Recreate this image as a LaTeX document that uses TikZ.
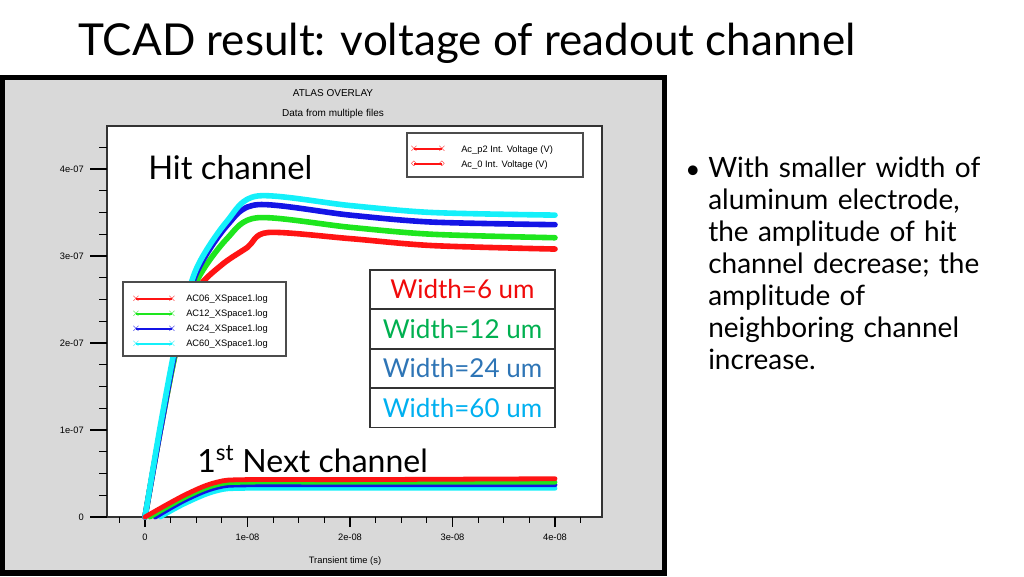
\documentclass[tikz,border=0pt]{standalone}
\usepackage{fontspec}
\setmainfont{Lato}
\newfontfamily\plotfont{Liberation Sans}
\definecolor{cR}{RGB}{255,20,20}
\definecolor{cG}{RGB}{30,230,30}
\definecolor{cB}{RGB}{20,20,230}
\definecolor{cC}{RGB}{20,240,250}
\definecolor{tR}{RGB}{240,10,10}
\definecolor{tG}{RGB}{0,176,80}
\definecolor{tB}{RGB}{46,117,182}
\definecolor{tC}{RGB}{0,176,240}
\begin{document}
\begin{tikzpicture}[x=0.75pt,y=-0.75pt,
  plottxt/.style={font=\plotfont\fontsize{7}{8}\selectfont, inner sep=0pt},
  legbox/.style={draw=black!70, fill=white, line width=0.8pt},
  wcell/.style={draw=black!80, line width=0.8pt, minimum width=185*0.75pt, minimum height=38.5*0.75pt, inner sep=0pt, font=\fontsize{19.5}{21}\selectfont},
  curve/.style={line width=4.2pt, line join=round, line cap=round},
  ncurve/.style={line width=3.6pt, line join=round, line cap=round},
  legline/.style={line width=0.8pt}]
\useasboundingbox (0,0) rectangle (1024,576);
\fill[white] (0,0) rectangle (1024,576);
% title
\node[anchor=west, inner sep=0pt, font=\fontsize{33}{37}\selectfont] (title) at (78,43) {TCAD result: voltage of readout channel};
% frame
\fill[black] (0,75) rectangle (667,576);
\fill[black!15] (5,80) rectangle (662,570);
\node[plottxt, font=\plotfont\fontsize{7.5}{8}\selectfont] (t1) at (333,93) {ATLAS OVERLAY};
\node[plottxt, font=\plotfont\fontsize{7.5}{8}\selectfont] (t2) at (333,114) {Data from multiple files};
\node[plottxt] (xl) at (345,561) {Transient time (s)};
\fill[white] (107,126) rectangle (602,517);
\draw[black!80, line width=0.8pt] (107,126) rectangle (602,517);
% y ticks
\foreach \i in {0,...,17} {\draw[black, line width=0.8pt] (99,{517-\i*21.75}) -- (107,{517-\i*21.75});}
\foreach \i/\lab in {0/0,1/1e-07,2/2e-07,3/3e-07,4/4e-07} {
  \draw[black, line width=1.2pt] (90,{517-\i*87}) -- (107,{517-\i*87});
  \node[plottxt, anchor=east] (yl\i) at (84,{517-\i*87}) {\lab};}
% x ticks
\foreach \i in {-1,...,17} {\draw[black, line width=0.8pt] ({145+\i*25.625},517) -- ({145+\i*25.625},523);}
\foreach \i/\lab in {0/0,1/1e-08,2/2e-08,3/3e-08,4/4e-08} {
  \draw[black, line width=1.2pt] ({145+\i*102.5},517) -- ({145+\i*102.5},527);
  \node[plottxt] (xt\i) at ({145+\i*102.5},537) {\lab};}
% curves
\begin{scope}[shift={(145,517)}, x=76.875pt, y=65.25pt]
 \draw[curve, cR] plot[smooth, tension=0.5] coordinates {(0,0) (0.15,1.0) (0.32,2.0) (0.5,2.6) (0.75,2.9) (1.0,3.1) (1.2,3.27) (2,3.2) (2.8,3.12) (4,3.08)};
 \draw[curve, cG] plot[smooth, tension=0.5] coordinates {(0,0) (0.15,1.0) (0.32,2.0) (0.5,2.7) (0.8,3.2) (1.1,3.44) (2,3.33) (2.8,3.25) (4,3.21)};
 \draw[curve, cB] plot[smooth, tension=0.5] coordinates {(0,0) (0.15,1.0) (0.32,2.05) (0.5,2.8) (0.8,3.35) (1.1,3.59) (2,3.47) (2.8,3.39) (4,3.36)};
 \draw[curve, cC] plot[smooth, tension=0.5] coordinates {(0,0) (0.15,1.05) (0.32,2.1) (0.5,2.85) (0.8,3.4) (1.1,3.69) (2,3.58) (2.8,3.5) (4,3.47)};
 \draw[ncurve, cC] plot[smooth, tension=0.6] coordinates {(0.15,0) (0.4,0.16) (0.7,0.3) (1.0,0.33) (2,0.33) (4,0.33)};
 \draw[ncurve, cB] plot[smooth, tension=0.6] coordinates {(0.1,0) (0.4,0.2) (0.7,0.34) (1.0,0.37) (2,0.37) (4,0.37)};
 \draw[ncurve, cG] plot[smooth, tension=0.6] coordinates {(0.05,0) (0.4,0.23) (0.7,0.37) (1.0,0.4) (2,0.4) (4,0.4)};
 \draw[ncurve, cR] plot[smooth, tension=0.6] coordinates {(0,0) (0.4,0.26) (0.7,0.4) (1.0,0.43) (2,0.43) (4,0.44)};
\end{scope}
% top right legend
\draw[legbox] (407,133) rectangle (583,177);
\draw[legline, cR] (414,149) -- (442,149);
\node[cR, inner sep=0pt, font=\fontsize{8}{8}\selectfont] (m1) at (414,149) {$\times$};
\node[cR, inner sep=0pt, font=\fontsize{8}{8}\selectfont] (m2) at (442,149) {$\times$};
\draw[legline, cR] (414,164) -- (442,164);
\node[cR, inner sep=0pt, font=\fontsize{8}{8}\selectfont] (m3) at (414,164) {$\diamond$};
\node[cR, inner sep=0pt, font=\fontsize{8}{8}\selectfont] (m4) at (442,164) {$\diamond$};
\node[plottxt, anchor=west] (lg1) at (461,150) {Ac\_p2 Int. Voltage (V)};
\node[plottxt, anchor=west] (lg2) at (461,165) {Ac\_0 Int. Voltage (V)};
% left legend
\draw[legbox] (123,282) rectangle (286,356);
\foreach \y/\c/\lab [count=\k] in {299/cR/AC06\_XSpace1.log, 314/cG/AC12\_XSpace1.log, 329/cB/AC24\_XSpace1.log, 344/cC/AC60\_XSpace1.log} {
  \draw[legline, \c] (136,\y) -- (172,\y);
  \node[\c, inner sep=0pt, font=\fontsize{8}{8}\selectfont] (lm\k a) at (136,\y) {$\times$};
  \node[\c, inner sep=0pt, font=\fontsize{8}{8}\selectfont] (lm\k b) at (172,\y) {$\times$};
  \node[plottxt, anchor=west] (ll\k) at (186,\y) {\lab};}
% width table
\node[wcell, fill=white, text=tR] (w1) at (462.5,289.25) {Width=6 um};
\node[wcell, fill=white, text=tG, anchor=north] (w2) at (w1.south) {Width=12 um};
\node[wcell, fill=white, text=tB, anchor=north] (w3) at (w2.south) {Width=24 um};
\node[wcell, fill=white, text=tC, anchor=north] (w4) at (w3.south) {Width=60 um};
% labels
\node[anchor=west, inner sep=0pt, font=\fontsize{24.5}{27}\selectfont] (hit) at (148,168) {Hit channel};
\node[anchor=west, inner sep=0pt, font=\fontsize{24}{27}\selectfont] (next) at (197,459) {1\textsuperscript{st} Next channel};
% bullets
\node[anchor=north west, inner sep=0pt, align=left, text width=320pt, font=\fontsize{21}{24}\selectfont] (bul) at (708,157) {With smaller width of\\aluminum electrode,\\the amplitude of hit\\channel decrease; the\\amplitude of\\neighboring channel\\increase.};
\node[inner sep=0pt, font=\fontsize{19.5}{24}\selectfont] (dot) at (693,172) {•};
\end{tikzpicture}
\end{document}
